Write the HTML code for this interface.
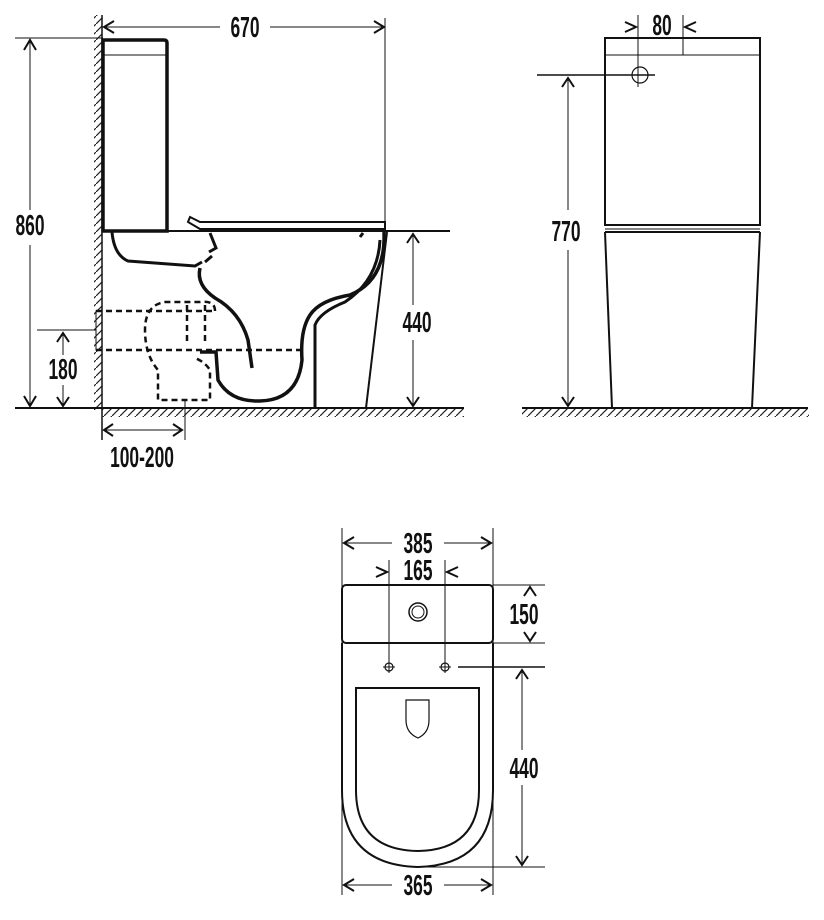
<!DOCTYPE html>
<html><head><meta charset="utf-8"><style>
html,body{margin:0;padding:0;background:#fff}
svg{display:block}
text{font-family:"Liberation Sans",sans-serif;font-weight:bold;font-size:29px;fill:#111}
</style></head><body>
<svg width="824" height="920" viewBox="0 0 824 920" xmlns="http://www.w3.org/2000/svg">
<defs>
<pattern id="hf" width="8" height="8" patternUnits="userSpaceOnUse">
<line x1="0" y1="8" x2="8" y2="0" stroke="#222" stroke-width="1.2"/>
</pattern>
</defs>
<g fill="none" stroke="#111" stroke-width="1.5">
<rect x="94" y="15" width="8" height="395" fill="url(#hf)" stroke="none"/>
<rect x="102" y="409" width="362" height="8" fill="url(#hf)" stroke="none"/>
<rect x="522" y="409" width="287" height="8" fill="url(#hf)" stroke="none"/>
<line x1="102" y1="15" x2="102" y2="440"/>
<line x1="15" y1="408" x2="464" y2="408" stroke-width="2"/>
<line x1="522" y1="408" x2="808" y2="408" stroke-width="2"/>

<path d="M103 231 V40 H164 Q167 40 167 43 V231 Z" stroke-width="3.5"/>
<line x1="103" y1="55" x2="166" y2="55" stroke-width="1"/>
<line x1="103" y1="231" x2="450" y2="231" stroke-width="2"/>
<path d="M190 217 L200 222 H385 V229 H200 L188 222 Z" stroke-width="2"/>
<path d="M112 232 Q114 255 128 261 L195 266 L202 262" stroke-width="3"/>
<path d="M210 233 L216 248 L209 252 M212 256 L205 262" stroke-width="3"/>
<path d="M200 268 Q196 285 215 298 Q240 312 248 340 L252 368" stroke-width="3.5"/>
<path d="M384 232 Q386 280 350 295 Q320 300 310 315 Q300 330 302 360 Q298 400 260 401 Q230 402 218 380 L216 352 H200" stroke-width="3.5"/>
<path d="M380 240 Q378 280 345 302 Q320 312 315 325 V408" stroke-width="3"/>
<path d="M360 237 L363 233" stroke-width="3"/>
<line x1="387" y1="232" x2="366" y2="408" stroke-width="2"/>
<g stroke-dasharray="6 4" stroke-width="2.5">
<line x1="96" y1="311" x2="216" y2="311"/>
<line x1="96" y1="350" x2="300" y2="350"/>
<path d="M215 311 Q215 300 200 302 H165 Q145 305 145 330 Q145 355 158 370 V400 H210 V370 Q205 362 195 358"/>
<line x1="187" y1="305" x2="187" y2="345"/>
<line x1="205" y1="305" x2="205" y2="345"/>
</g>
<rect x="96" y="311" width="6" height="39" stroke-width="1"/>

<line x1="15" y1="38" x2="103" y2="38" stroke-width="1"/>
<line x1="30" y1="40" x2="30" y2="210" stroke-width="1"/>
<line x1="30" y1="245" x2="30" y2="406" stroke-width="1"/>
<path d="M24 50 L30 40 L36 50 M24 396 L30 406 L36 396" stroke-width="2"/>
<line x1="37" y1="330" x2="96" y2="330" stroke-width="1"/>
<line x1="63" y1="333" x2="63" y2="355" stroke-width="1"/>
<line x1="63" y1="385" x2="63" y2="406" stroke-width="1"/>
<path d="M57 342 L63 333 L69 342 M57 397 L63 406 L69 397" stroke-width="2"/>
<line x1="103" y1="27" x2="220" y2="27" stroke-width="1"/>
<line x1="270" y1="27" x2="385" y2="27" stroke-width="1"/>
<path d="M114 21 L104 27 L114 33 M374 21 L384 27 L374 33" stroke-width="2"/>
<line x1="385" y1="18" x2="385" y2="230" stroke-width="1"/>
<line x1="413" y1="234" x2="413" y2="305" stroke-width="1"/>
<line x1="413" y1="340" x2="413" y2="406" stroke-width="1"/>
<path d="M407 243 L413 234 L419 243 M407 397 L413 406 L419 397" stroke-width="2"/>
<line x1="185" y1="400" x2="185" y2="440" stroke-width="1"/>
<line x1="103" y1="430" x2="183" y2="430" stroke-width="1"/>
<path d="M113 424 L104 430 L113 436 M173 424 L182 430 L173 436" stroke-width="2"/>

<rect x="605" y="38" width="155" height="187" stroke-width="2"/>
<line x1="605" y1="55" x2="760" y2="55" stroke-width="1"/>
<line x1="605" y1="229" x2="760" y2="229" stroke-width="1"/>
<line x1="605" y1="232" x2="760" y2="232" stroke-width="2"/>
<path d="M605 232 L612 408 M760 232 L752 408" stroke-width="2"/>
<circle cx="640" cy="75" r="8" stroke-width="1.2"/>
<line x1="638" y1="15" x2="638" y2="87" stroke-width="1"/>
<line x1="683" y1="15" x2="683" y2="55" stroke-width="1"/>
<line x1="537" y1="75" x2="655" y2="75" stroke-width="1.5"/>
<path d="M625 22 L636 27 L625 32 M696 22 L685 27 L696 32" stroke-width="2"/>
<line x1="568" y1="78" x2="568" y2="210" stroke-width="1"/>
<line x1="568" y1="250" x2="568" y2="406" stroke-width="1"/>
<path d="M562 87 L568 78 L574 87 M562 397 L568 406 L574 397" stroke-width="2"/>

<rect x="342" y="585" width="151" height="58" rx="4" stroke-width="2"/>
<path d="M342 643 V790 Q342 865 418 867 Q493 865 493 790 V643" stroke-width="2"/>
<path d="M356 688 H479 V790 Q479 850 418 851 Q356 850 356 790 Z" stroke-width="2"/>
<path d="M406 700 H429 V720 Q429 733 418 738 Q406 733 406 720 Z" stroke-width="1.2"/>
<circle cx="418" cy="612" r="9" stroke-width="1.5"/>
<circle cx="418" cy="612" r="6" stroke-width="1"/>
<circle cx="389" cy="667" r="4" stroke-width="1.2"/>
<circle cx="445" cy="667" r="4" stroke-width="1.2"/>
<line x1="383" y1="667" x2="395" y2="667" stroke-width="1"/>
<line x1="439" y1="667" x2="451" y2="667" stroke-width="1"/>
<line x1="389" y1="560" x2="389" y2="673" stroke-width="1"/>
<line x1="445" y1="560" x2="445" y2="673" stroke-width="1"/>
<line x1="458" y1="667" x2="545" y2="667" stroke-width="1.5"/>
<line x1="342" y1="528" x2="342" y2="895" stroke-width="1"/>
<line x1="493" y1="528" x2="493" y2="895" stroke-width="1"/>
<line x1="344" y1="543" x2="392" y2="543" stroke-width="1"/>
<line x1="444" y1="543" x2="491" y2="543" stroke-width="1"/>
<path d="M354 537 L344 543 L354 549 M481 537 L491 543 L481 549" stroke-width="2"/>
<path d="M376 567 L387 572 L376 577 M458 567 L447 572 L458 577" stroke-width="2"/>
<line x1="344" y1="885" x2="392" y2="885" stroke-width="1"/>
<line x1="444" y1="885" x2="491" y2="885" stroke-width="1"/>
<path d="M354 879 L344 885 L354 891 M481 879 L491 885 L481 891" stroke-width="2"/>
<line x1="493" y1="585" x2="545" y2="585" stroke-width="1"/>
<line x1="493" y1="643" x2="545" y2="643" stroke-width="1"/>
<path d="M524 596 L530 587 L536 596 M524 632 L530 641 L536 632" stroke-width="2"/>
<line x1="418" y1="867" x2="545" y2="867" stroke-width="1"/>
<line x1="522" y1="670" x2="522" y2="750" stroke-width="1"/>
<line x1="522" y1="785" x2="522" y2="865" stroke-width="1"/>
<path d="M516 679 L522 670 L528 679 M516 856 L522 865 L528 856" stroke-width="2"/>
</g>

<g stroke="none" text-anchor="middle">
<text transform="translate(245,37) scale(0.6,1)">670</text>
<text transform="translate(30,235) scale(0.6,1)">860</text>
<text transform="translate(63,379) scale(0.6,1)">180</text>
<text transform="translate(417,332) scale(0.6,1)">440</text>
<text transform="translate(142,467) scale(0.6,1)">100-200</text>
<text transform="translate(662,35) scale(0.6,1)">80</text>
<text transform="translate(566,241) scale(0.6,1)">770</text>
<text transform="translate(418,553) scale(0.6,1)">385</text>
<text transform="translate(418,580) scale(0.6,1)">165</text>
<text transform="translate(524,624) scale(0.6,1)">150</text>
<text transform="translate(524,778) scale(0.6,1)">440</text>
<text transform="translate(418,895) scale(0.6,1)">365</text>
</g>
</svg>
</body></html>
